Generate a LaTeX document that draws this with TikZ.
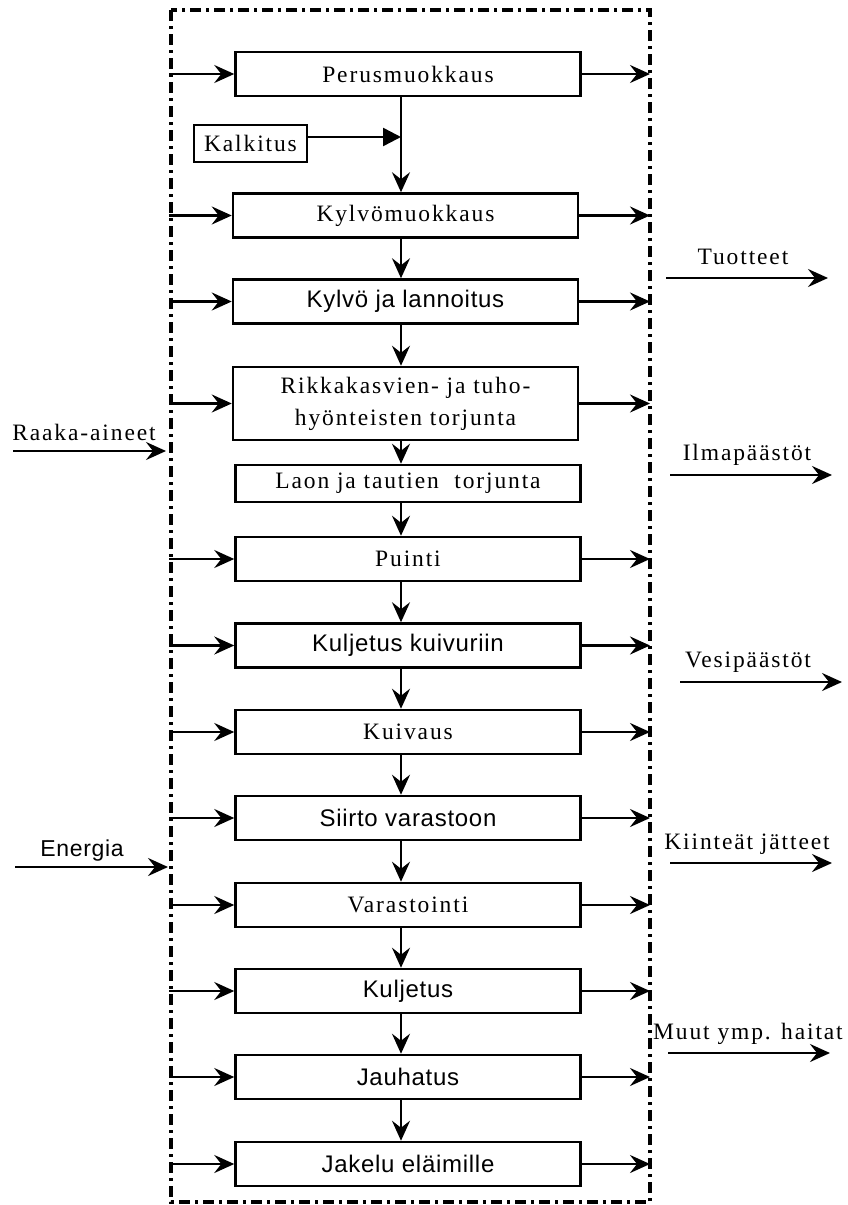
\documentclass[tikz,border=0pt]{standalone}
\usepackage{fontspec}
\setmainfont{Liberation Serif}[LetterSpace=8]
\setsansfont{Liberation Sans}[LetterSpace=3]
\usetikzlibrary{arrows.meta}

\tikzset{
    box/.style={draw, line width=2.5pt, minimum width=345pt, minimum height=44pt,
        inner sep=0pt, align=center, font=\fontsize{23.5}{32}\selectfont},
    sbox/.style={box, font=\sffamily\fontsize{24}{30}\selectfont},
    flow/.style={-{Stealth[length=20pt,width=18pt,inset=7pt]}, line width=2.5pt},
    lbl/.style={font=\fontsize{23.5}{27}\selectfont, inner sep=0pt},
    frame/.style={line width=3.5pt, dash pattern=on 11pt off 5pt on 3pt off 5pt}
}

\begin{document}
\begin{tikzpicture}[x=1pt, y=-1pt]
    \useasboundingbox (0,0) rectangle (848,1205);
    \draw[frame] (171,10) rectangle (650,1202);
    \coordinate (fl) at (169,0);
    \coordinate (fr) at (650,0);
    \coordinate (spine) at (401,0);

    \node[box] (perus) at (408,74) {Perusmuokkaus};
    \node[box, minimum width=113pt, minimum height=37pt] (kalk) at (250.5,143.5) {Kalkitus};
    \node[box] (kylvom) at (405.5,215.5) {Kylvömuokkaus};
    \node[sbox] (kylvo) at (405.5,301.5) {Kylvö ja lannoitus};
    \node[box, minimum height=73pt] (rikka) at (405.5,403.5) {Rikkakasvien- ja tuho-\\hyönteisten torjunta};
    \node[box, minimum height=37pt] (laon) at (408,483.5) {Laon ja tautien\ \ torjunta};
    \node[box] (puinti) at (408,559) {Puinti};
    \node[sbox] (kuivuri) at (408,645.5) {Kuljetus kuivuriin};
    \node[box] (kuivaus) at (408,732) {Kuivaus};
    \node[sbox] (siirto) at (408,818) {Siirto varastoon};
    \node[box] (varasto) at (408,905) {Varastointi};
    \node[sbox] (kulj) at (408,991) {Kuljetus};
    \node[sbox] (jauh) at (408,1077) {Jauhatus};
    \node[sbox] (jakelu) at (408,1164) {Jakelu eläimille};

    % main chain
    \coordinate (kalkin) at (401,137);
    \draw[line width=2.5pt, -{Triangle[length=18pt,width=18pt]}] (kalk.east |- kalkin) -- (kalkin);
    \draw[flow] (perus.south -| spine) -- (kylvom.north -| spine);
    \draw[flow] (kylvom.south -| spine) -- (kylvo.north -| spine);
    \draw[flow] (kylvo.south -| spine) -- (rikka.north -| spine);
    \draw[flow] (rikka.south -| spine) -- (laon.north -| spine);
    \draw[flow] (laon.south -| spine) -- (puinti.north -| spine);
    \draw[flow] (puinti.south -| spine) -- (kuivuri.north -| spine);
    \draw[flow] (kuivuri.south -| spine) -- (kuivaus.north -| spine);
    \draw[flow] (kuivaus.south -| spine) -- (siirto.north -| spine);
    \draw[flow] (siirto.south -| spine) -- (varasto.north -| spine);
    \draw[flow] (varasto.south -| spine) -- (kulj.north -| spine);
    \draw[flow] (kulj.south -| spine) -- (jauh.north -| spine);
    \draw[flow] (jauh.south -| spine) -- (jakelu.north -| spine);

    % inputs and outputs of each step
    \draw[flow] (perus.west -| fl) -- (perus.west);
    \draw[flow] (perus.east) -- (perus.east -| fr);
    \draw[flow] (kylvom.west -| fl) -- (kylvom.west);
    \draw[flow] (kylvom.east) -- (kylvom.east -| fr);
    \draw[flow] (kylvo.west -| fl) -- (kylvo.west);
    \draw[flow] (kylvo.east) -- (kylvo.east -| fr);
    \draw[flow] (rikka.west -| fl) -- (rikka.west);
    \draw[flow] (rikka.east) -- (rikka.east -| fr);
    \draw[flow] (puinti.west -| fl) -- (puinti.west);
    \draw[flow] (puinti.east) -- (puinti.east -| fr);
    \draw[flow] (kuivuri.west -| fl) -- (kuivuri.west);
    \draw[flow] (kuivuri.east) -- (kuivuri.east -| fr);
    \draw[flow] (kuivaus.west -| fl) -- (kuivaus.west);
    \draw[flow] (kuivaus.east) -- (kuivaus.east -| fr);
    \draw[flow] (siirto.west -| fl) -- (siirto.west);
    \draw[flow] (siirto.east) -- (siirto.east -| fr);
    \draw[flow] (varasto.west -| fl) -- (varasto.west);
    \draw[flow] (varasto.east) -- (varasto.east -| fr);
    \draw[flow] (kulj.west -| fl) -- (kulj.west);
    \draw[flow] (kulj.east) -- (kulj.east -| fr);
    \draw[flow] (jauh.west -| fl) -- (jauh.west);
    \draw[flow] (jauh.east) -- (jauh.east -| fr);
    \draw[flow] (jakelu.west -| fl) -- (jakelu.west);
    \draw[flow] (jakelu.east) -- (jakelu.east -| fr);

    % left side
    \node[lbl] (raaka) at (84,432) {Raaka-aineet};
    \coordinate (raaka-a) at (13,451);
    \coordinate (raaka-b) at (166,451);
    \draw[flow] (raaka-a) -- (raaka-b);
    \node[lbl, font=\sffamily\fontsize{23}{26}\selectfont] (energia) at (82,851) {Energia};
    \coordinate (energia-a) at (15,867);
    \coordinate (energia-b) at (168,867);
    \draw[flow] (energia-a) -- (energia-b);

    % right side
    \node[lbl] (tuotteet) at (743,257) {Tuotteet};
    \coordinate (tuotteet-a) at (666,278);
    \coordinate (tuotteet-b) at (828,278);
    \draw[flow] (tuotteet-a) -- (tuotteet-b);
    \node[lbl] (ilma) at (747,455) {Ilmapäästöt};
    \coordinate (ilma-a) at (670,475);
    \coordinate (ilma-b) at (832,475);
    \draw[flow] (ilma-a) -- (ilma-b);
    \node[lbl] (vesi) at (748,662) {Vesipäästöt};
    \coordinate (vesi-a) at (680,682);
    \coordinate (vesi-b) at (842,682);
    \draw[flow] (vesi-a) -- (vesi-b);
    \node[lbl] (kiint) at (747,844) {Kiinteät jätteet};
    \coordinate (kiint-a) at (670,863);
    \coordinate (kiint-b) at (832,863);
    \draw[flow] (kiint-a) -- (kiint-b);
    \node[lbl] (muut) at (748,1034) {Muut ymp. haitat};
    \coordinate (muut-a) at (668,1053);
    \coordinate (muut-b) at (830,1053);
    \draw[flow] (muut-a) -- (muut-b);
\end{tikzpicture}
\end{document}
